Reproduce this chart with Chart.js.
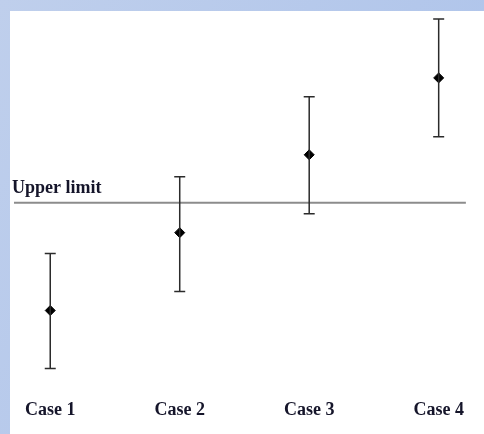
<!DOCTYPE html>
<html lang="en">
<head>
  <meta charset="UTF-8">
  <title>Upper limit chart</title>
  <script src="https://cdn.jsdelivr.net/npm/chart.js"></script>
  <style>
    html, body {
      margin: 0;
      padding: 0;
      width: 484px;
      height: 434px;
      overflow: hidden;
      background: linear-gradient(120deg, #bfcfec, #aac1ea);
    }
    .panel {
      position: absolute;
      left: 10px;
      top: 11px;
      width: 474px;
      height: 423px;
      background: #fff;
    }
  </style>
</head>
<body>
  <div class="panel">
    <canvas id="myChart" width="474" height="423"></canvas>
  </div>

  <script>
    // values
    const categories = ['Case 1', 'Case 2', 'Case 3', 'Case 4'];
    const means = [7.4, 15.2, 23.0, 30.7];
    const lows = [1.6, 9.3, 17.1, 24.8];
    const highs = [13.1, 20.8, 28.8, 36.6];
    const upperLimit = 18.2;
    const limitLabel = 'Upper limit';
    const limitFrom = 0.72;
    const limitTo = 4.21;

    const serif = "'Liberation Serif', 'Times New Roman', serif";

    // whiskers + caps, drawn right after the limit line so markers sit on top
    const errorBars = {
      id: 'errorBars',
      afterDatasetDraw(chart, args) {
        if (args.index !== 0) return;
        const ctx = chart.ctx;
        const xs = chart.scales.x, ys = chart.scales.y;
        ctx.save();
        ctx.strokeStyle = '#2b2b2b';
        ctx.lineWidth = 1.5;
        means.forEach((m, i) => {
          const x = xs.getPixelForValue(i + 1);
          const top = ys.getPixelForValue(highs[i]);
          const bot = ys.getPixelForValue(lows[i]);
          ctx.beginPath();
          ctx.moveTo(x, top); ctx.lineTo(x, bot);
          ctx.moveTo(x - 5.5, top); ctx.lineTo(x + 5.5, top);
          ctx.moveTo(x - 5.5, bot); ctx.lineTo(x + 5.5, bot);
          ctx.stroke();
        });
        // label over the limit line
        ctx.fillStyle = '#15152a';
        ctx.font = 'bold 18px ' + serif;
        ctx.textBaseline = 'alphabetic';
        ctx.fillText(limitLabel, xs.getPixelForValue(limitFrom) - 2, ys.getPixelForValue(upperLimit) - 10);
        ctx.restore();
      }
    };

    const ctx = document.getElementById('myChart').getContext('2d');
    const myChart = new Chart(ctx, {
      type: 'scatter',
      data: {
        datasets: [
          {
            type: 'line',
            data: [{ x: limitFrom, y: upperLimit }, { x: limitTo, y: upperLimit }],
            borderColor: '#8c8c8c',
            borderWidth: 2,
            pointRadius: 0
          },
          {
            data: means.map((m, i) => ({ x: i + 1, y: m })),
            pointStyle: 'rectRot',
            pointRadius: 5,
            backgroundColor: '#000',
            borderColor: '#000'
          }
        ]
      },
      options: {
        responsive: false,
        animation: false,
        layout: { autoPadding: false, padding: { left: 0, right: 0, top: 0, bottom: -2 } },
        plugins: { legend: { display: false }, tooltip: { enabled: false } },
        scales: {
          x: {
            type: 'linear',
            min: 0.69,
            max: 4.35,
            grid: { display: false, drawTicks: false },
            border: { display: false },
            afterBuildTicks: (axis) => { axis.ticks = categories.map((c, i) => ({ value: i + 1 })); },
            ticks: {
              autoSkip: false,
              maxRotation: 0,
              padding: 15,
              color: '#15152a',
              font: { family: serif, size: 18, weight: 'bold' },
              callback: (v) => categories[v - 1]
            }
          },
          y: {
            display: false,
            min: 0,
            max: 37.4
          }
        }
      },
      plugins: [errorBars]
    });
  </script>
</body>
</html>
